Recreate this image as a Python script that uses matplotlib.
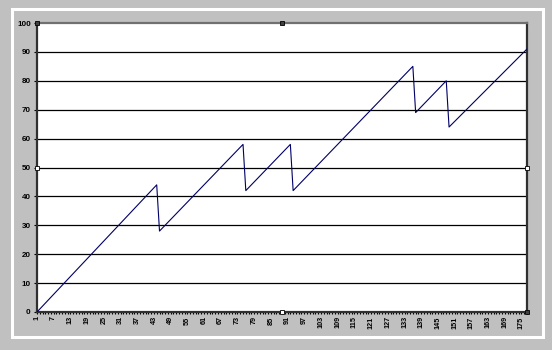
import matplotlib
matplotlib.use("Agg")
import matplotlib.pyplot as plt
from matplotlib.patches import Rectangle

# vertices of the series (category number, value)
cats = [1, 44, 45, 75, 76, 92, 93, 136, 137, 148, 149, 177]
vals = [0, 44, 28, 58, 42, 58, 42, 85, 69, 80, 64, 91]
x_ticks = list(range(1, 176, 6))
y_ticks = list(range(0, 101, 10))

W, H = 552, 350
fig = plt.figure(figsize=(W / 100, H / 100), dpi=100, facecolor="#c0c0c0")

# white frame of the chart area
fig.patches.append(Rectangle((11.5 / W, 13 / H), 531 / W, 328.5 / H,
                             transform=fig.transFigure, fill=False,
                             edgecolor="white", linewidth=2.2))

ax = fig.add_axes([37 / W, 38 / H, 490 / W, 289 / H])
ax.set_facecolor("white")

for y in y_ticks[1:-1]:
    ax.axhline(y, color="black", linewidth=0.9, zorder=1)

ax.plot(cats, vals, color="#000066", linewidth=0.8, zorder=3)

ax.set_xlim(1, 177)
ax.set_ylim(0, 100)
ax.set_xticks(x_ticks)
ax.set_xticks(range(1, 178), minor=True)
ax.set_yticks(y_ticks)
ax.set_xticklabels([str(t) for t in x_ticks], rotation=90,
                   fontsize=5.2, fontweight="bold", family="Liberation Sans")
ax.set_yticklabels([str(t) for t in y_ticks],
                   fontsize=5.8, fontweight="bold", family="Liberation Sans")
ax.tick_params(axis="x", which="both", length=1.6, width=0.8, pad=1.5, direction="out")
ax.tick_params(axis="y", length=2, width=0.8, pad=2.5)

for side in ["left", "right", "top", "bottom"]:
    ax.spines[side].set_linestyle((0, (1, 1)))
    ax.spines[side].set_linewidth(1.6)
    ax.spines[side].set_color("#303030")
ax.spines["top"].set_color("#707070")

# selection handles round the plot area
handles = [(0, 1, "#404040"), (1, 0, "#404040"), (0.5, 1, "#404040"),
           (0.5, 0, "white"), (0, 0.5, "white"), (1, 0.5, "white")]
for hx, hy, fc in handles:
    ax.plot(hx, hy, marker="s", markersize=3, markerfacecolor=fc,
            markeredgecolor="black", markeredgewidth=0.6,
            transform=ax.transAxes, clip_on=False, zorder=5)

fig.savefig("out.png", dpi=100, facecolor=fig.get_facecolor())
